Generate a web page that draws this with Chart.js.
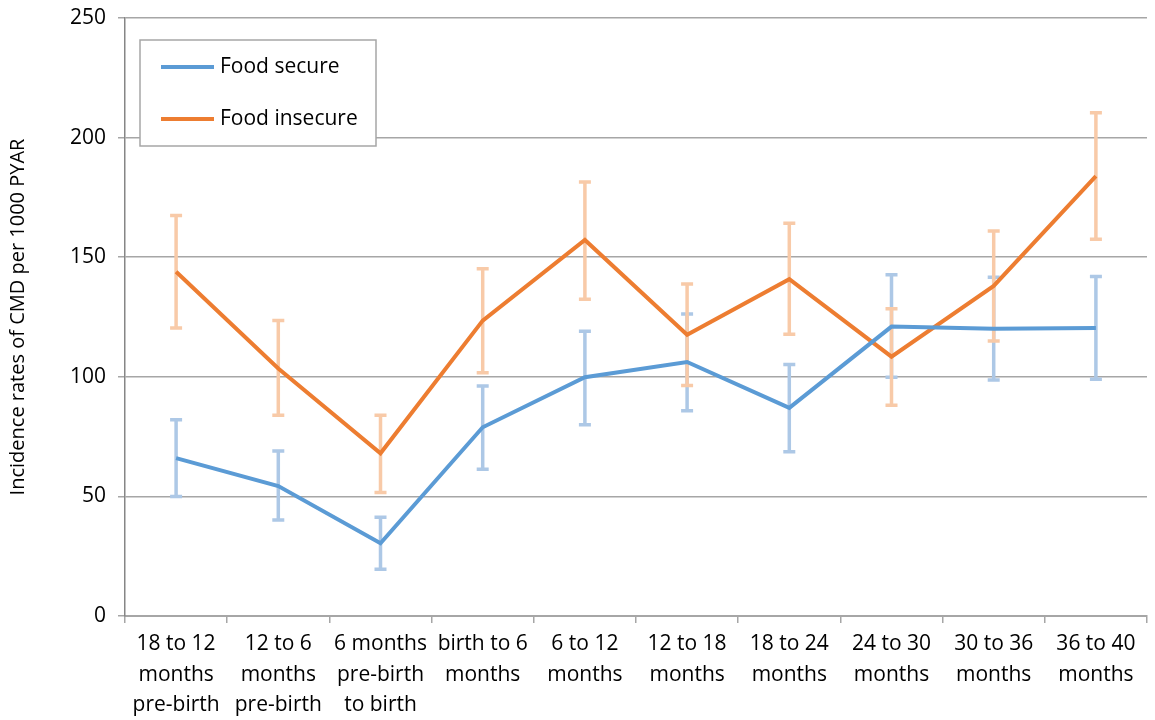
<!DOCTYPE html>
<html>
<head>
<meta charset="utf-8">
<script src="https://cdn.jsdelivr.net/npm/chart.js@4/dist/chart.umd.min.js"></script>
<style>
  body { margin: 0; background: #fff; }
  #wrap { width: 1155px; height: 720px; position: relative; }
</style>
</head>
<body>
<div id="wrap"><canvas id="cmdChart"></canvas></div>
<script>
const categories = [
  ["18 to 12", "months", "pre-birth"],
  ["12 to 6", "months", "pre-birth"],
  ["6 months", "pre-birth", "to birth"],
  ["birth to 6", "months"],
  ["6 to 12", "months"],
  ["12 to 18", "months"],
  ["18 to 24", "months"],
  ["24 to 30", "months"],
  ["30 to 36", "months"],
  ["36 to 40", "months"],
];

const secure = [66, 54.3, 30.4, 78.9, 99.8, 106.2, 87.0, 121.0, 120.1, 120.4];
const secureLow = [50, 40.1, 19.5, 61.3, 80.0, 85.8, 68.7, 99.8, 98.7, 99.0];
const secureHigh = [82, 69, 41.3, 96.2, 119.0, 126.3, 105.1, 142.7, 141.6, 141.9];

const insecure = [143.9, 103.5, 68.0, 123.5, 157.2, 117.6, 140.8, 108.4, 138.0, 183.9];
const insecureLow = [120.4, 83.9, 51.6, 101.7, 132.4, 96.4, 117.8, 88.1, 115.0, 157.5];
const insecureHigh = [167.4, 123.5, 83.9, 145.2, 181.4, 138.8, 164.2, 128.5, 161.0, 210.4];

const yTicks = [0, 50, 100, 150, 200, 250];

const FONT = "'Open Sans'";

// error bars, drawn under the lines
const errorBars = {
  id: "errorBars",
  beforeDatasetsDraw(chart) {
    let ctx = chart.ctx;
    let x = chart.scales.x;
    let y = chart.scales.y;
    chart.data.datasets.forEach((ds) => {
      ctx.save();
      ctx.strokeStyle = ds.errColor;
      ctx.lineWidth = 3.5;
      ds.low.forEach((lo, i) => {
        let px = x.getPixelForValue(i);
        let top = y.getPixelForValue(ds.high[i]);
        let bot = y.getPixelForValue(lo);
        ctx.beginPath();
        ctx.moveTo(px, top);
        ctx.lineTo(px, bot);
        ctx.moveTo(px - 6, top);
        ctx.lineTo(px + 6, top);
        ctx.moveTo(px - 6, bot);
        ctx.lineTo(px + 6, bot);
        ctx.stroke();
      });
      ctx.restore();
    });
  },
};

// boxed legend inside the plot area
const boxLegend = {
  id: "boxLegend",
  afterDraw(chart) {
    let ctx = chart.ctx;
    let area = chart.chartArea;
    let bx = area.left + 15;
    let by = area.top + 22;
    ctx.save();
    ctx.fillStyle = "#fff";
    ctx.fillRect(bx, by, 236, 106);
    ctx.strokeStyle = "#a6a6a6";
    ctx.lineWidth = 1.5;
    ctx.strokeRect(bx, by, 236, 106);
    ctx.font = `21px ${FONT}`;
    ctx.textBaseline = "middle";
    chart.data.datasets.forEach((ds, i) => {
      let ly = by + 27 + i * 52;
      ctx.strokeStyle = ds.borderColor;
      ctx.lineWidth = 4;
      ctx.beginPath();
      ctx.moveTo(bx + 21, ly);
      ctx.lineTo(bx + 74, ly);
      ctx.stroke();
      ctx.fillStyle = "#000";
      ctx.fillText(ds.label, bx + 80, ly);
    });
    ctx.restore();
  },
};

new Chart(document.getElementById("cmdChart"), {
  type: "line",
  data: {
    labels: categories,
    datasets: [
      {
        label: "Food secure",
        data: secure,
        low: secureLow,
        high: secureHigh,
        borderColor: "#5b9bd5",
        errColor: "#adc8e6",
        borderWidth: 4,
        pointRadius: 0,
        tension: 0,
      },
      {
        label: "Food insecure",
        data: insecure,
        low: insecureLow,
        high: insecureHigh,
        borderColor: "#ed7d31",
        errColor: "#f8caa8",
        borderWidth: 4,
        pointRadius: 0,
        tension: 0,
      },
    ],
  },
  options: {
    responsive: true,
    maintainAspectRatio: false,
    animation: false,
    layout: {
      padding: { left: 6, right: 8, top: 18, bottom: 0 },
    },
    plugins: {
      legend: { display: false },
      tooltip: { enabled: false },
    },
    scales: {
      x: {
        offset: true,
        grid: {
          offset: true,
          drawOnChartArea: false,
          color: "#a6a6a6",
          lineWidth: 1.5,
          tickLength: 7,
        },
        border: { color: "#a6a6a6", width: 2 },
        ticks: {
          color: "#000",
          padding: 6,
          maxRotation: 0,
          autoSkip: false,
          font: { family: FONT, size: 21, lineHeight: 1.45 },
        },
        afterFit: (scale) => {
          scale.height = 104;
        },
      },
      y: {
        min: 0,
        max: 250,
        afterBuildTicks: (scale) => {
          scale.ticks = yTicks.map((v) => ({ value: v }));
        },
        grid: {
          color: "#a6a6a6",
          lineWidth: 1.5,
          tickLength: 7,
        },
        border: { color: "#868686", width: 1.5 },
        ticks: {
          color: "#000",
          padding: 12,
          font: { family: FONT, size: 21 },
        },
        title: {
          display: true,
          text: "Incidence rates of CMD per 1000 PYAR",
          color: "#000",
          font: { family: FONT, size: 20 },
          padding: { top: 0, bottom: 2 },
        },
        afterFit: (scale) => {
          scale.width = 119;
          scale.paddingTop = 0;
        },
      },
    },
  },
  plugins: [errorBars, boxLegend],
});
</script>
</body>
</html>
